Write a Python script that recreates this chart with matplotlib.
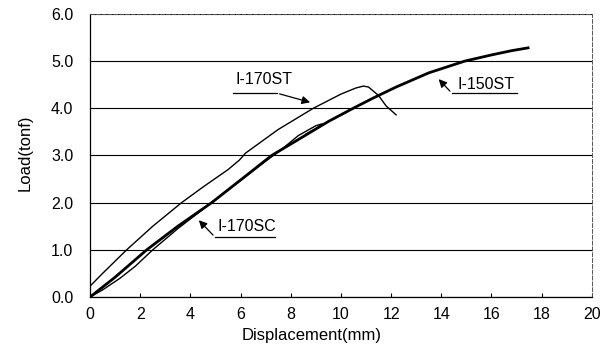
import matplotlib
matplotlib.use("Agg")
import matplotlib.pyplot as plt

plt.rcParams["font.family"] = ["Liberation Sans", "DejaVu Sans"]

# I-150ST (thick line)
x_150st = [0, 1.0, 2.26, 3.5, 4.85, 6.0, 7.24, 8.5, 9.5, 10.49, 11.3, 12.2, 13.5, 14.94, 16.0, 16.8, 17.46]
y_150st = [0, 0.42, 1.0, 1.5, 2.0, 2.48, 3.0, 3.4, 3.72, 4.0, 4.22, 4.45, 4.75, 5.0, 5.13, 5.22, 5.28]

# I-170ST (thin, with drop after peak)
x_170st = [0, 0.5, 1.46, 2.5, 3.65, 4.5, 5.5, 5.95, 6.2, 7.5, 8.9, 10.0, 10.6, 10.9, 11.1, 11.5, 11.8, 12.2]
y_170st = [0.23, 0.5, 1.0, 1.5, 2.0, 2.33, 2.7, 2.9, 3.05, 3.55, 4.0, 4.3, 4.43, 4.47, 4.45, 4.27, 4.05, 3.86]

# I-170SC (thin)
x_170sc = [0, 0.5, 1.2, 1.8, 2.5, 3.5, 4.6, 5.0, 6.0, 7.0, 7.57, 8.3, 9.0, 9.25, 9.1, 8.6]
y_170sc = [0, 0.15, 0.4, 0.65, 1.0, 1.45, 1.9, 2.07, 2.47, 2.88, 3.1, 3.42, 3.63, 3.67, 3.6, 3.45]

fig = plt.figure(figsize=(6.09, 3.47), dpi=100)
ax = fig.add_axes([0.1478, 0.144, 0.824, 0.816])

ax.plot(x_170st, y_170st, color="black", lw=1.0)
ax.plot(x_170sc, y_170sc, color="black", lw=1.0)
ax.plot(x_150st, y_150st, color="black", lw=2.0)

ax.set_xlim(0, 20)
ax.set_ylim(0, 6)
ax.set_xticks(range(0, 21, 2))
ax.set_yticks([0, 1, 2, 3, 4, 5, 6])
ax.set_yticklabels([f"{v:.1f}" for v in range(7)])
ax.yaxis.grid(True, color="black", lw=0.8)
ax.set_axisbelow(True)
ax.tick_params(axis="x", direction="in", length=3, labelsize=11.5, pad=7)
ax.tick_params(axis="y", length=0, labelsize=11.5, pad=12)
for s in ["top", "right"]:
    ax.spines[s].set_linestyle((0, (4, 2)))
    ax.spines[s].set_linewidth(0.7)
    ax.spines[s].set_color("#555555")
ax.spines["left"].set_linewidth(0.9)
ax.spines["bottom"].set_linewidth(0.9)

ax.set_xlabel("Displacement(mm)", fontsize=12)
ax.xaxis.set_label_coords(0.442, -0.108)
ax.set_ylabel("Load(tonf)", fontsize=12, va="center", ha="center")
ax.yaxis.set_label_coords(-0.129, 0.51)

# callouts
arrow = dict(arrowstyle="-|>", color="black", lw=0.9, mutation_scale=12)
ax.annotate("", xy=(8.88, 4.11), xytext=(7.45, 4.32), arrowprops=arrow)
ax.plot([5.7, 7.45], [4.32, 4.32], color="black", lw=0.9)
ax.text(6.95, 4.6, "I-170ST", fontsize=11.5, ha="center", va="center")

ax.annotate("", xy=(13.82, 4.66), xytext=(14.42, 4.32), arrowprops=arrow)
ax.plot([14.42, 17.0], [4.32, 4.32], color="black", lw=0.9)
ax.text(15.8, 4.5, "I-150ST", fontsize=11.5, ha="center", va="center")

ax.annotate("", xy=(4.26, 1.67), xytext=(4.98, 1.27), arrowprops=arrow)
ax.plot([4.98, 7.37], [1.27, 1.27], color="black", lw=0.9)
ax.text(6.25, 1.5, "I-170SC", fontsize=11.5, ha="center", va="center")

fig.savefig("out.png", dpi=100)
